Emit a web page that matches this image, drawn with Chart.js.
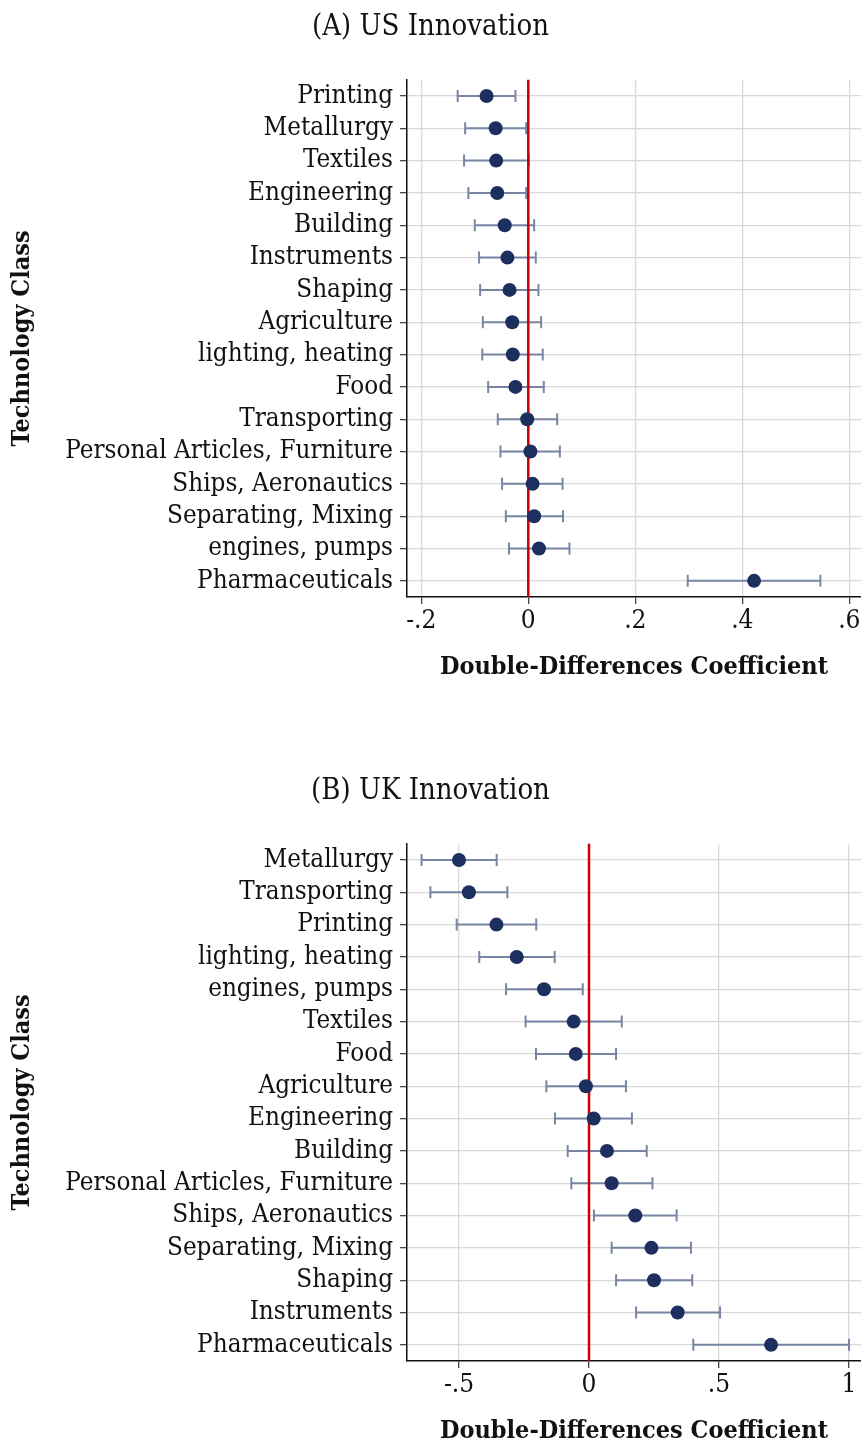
<!DOCTYPE html>
<html lang="en">
<head>
<meta charset="UTF-8">
<title>Double-Differences by Technology Class</title>
<script src="https://cdn.jsdelivr.net/npm/chart.js"></script>
<style>
    html, body { margin: 0; padding: 0; background: #fff; overflow: hidden; }
    .panel { position: absolute; left: 0; width: 861px; height: 682px; }
    #panelA { top: 0; }
    #panelB { top: 764px; }
</style>
</head>
<body>
<div class="panel" id="panelA"><canvas id="chartA" width="861" height="682"></canvas></div>
<div class="panel" id="panelB"><canvas id="chartB" width="861" height="682"></canvas></div>
<script>
// (A) US Innovation
const classesA = ['Printing', 'Metallurgy', 'Textiles', 'Engineering', 'Building', 'Instruments',
    'Shaping', 'Agriculture', 'lighting, heating', 'Food', 'Transporting',
    'Personal Articles, Furniture', 'Ships, Aeronautics', 'Separating, Mixing',
    'engines, pumps', 'Pharmaceuticals'];
const coefA = [-0.078, -0.061, -0.060, -0.058, -0.044, -0.039, -0.035, -0.030, -0.029, -0.024,
    -0.002, 0.004, 0.008, 0.011, 0.020, 0.422];
const lowA = [-0.132, -0.118, -0.120, -0.112, -0.100, -0.092, -0.090, -0.085, -0.086, -0.075,
    -0.057, -0.052, -0.049, -0.042, -0.036, 0.298];
const highA = [-0.024, -0.004, 0.001, -0.004, 0.011, 0.014, 0.019, 0.024, 0.027, 0.029,
    0.054, 0.059, 0.064, 0.065, 0.077, 0.546];
const ticksA = [-0.2, 0, 0.2, 0.4, 0.6];

// (B) UK Innovation
const classesB = ['Metallurgy', 'Transporting', 'Printing', 'lighting, heating', 'engines, pumps',
    'Textiles', 'Food', 'Agriculture', 'Engineering', 'Building',
    'Personal Articles, Furniture', 'Ships, Aeronautics', 'Separating, Mixing',
    'Shaping', 'Instruments', 'Pharmaceuticals'];
const coefB = [-0.500, -0.462, -0.356, -0.278, -0.173, -0.059, -0.051, -0.012, 0.018, 0.069,
    0.087, 0.178, 0.240, 0.250, 0.341, 0.700];
const lowB = [-0.644, -0.610, -0.509, -0.422, -0.319, -0.244, -0.204, -0.164, -0.131, -0.082,
    -0.068, 0.019, 0.087, 0.104, 0.181, 0.401];
const highB = [-0.355, -0.314, -0.203, -0.132, -0.024, 0.126, 0.104, 0.142, 0.165, 0.222,
    0.244, 0.337, 0.392, 0.397, 0.504, 1.000];
const ticksB = [-0.5, 0, 0.5, 1];

const FONT = "'DejaVu Serif Condensed', 'DejaVu Serif', serif";
Chart.defaults.font.family = FONT;
Chart.defaults.color = '#111';

// whiskers + red zero line, drawn under the points
const ciPlugin = {
    id: 'ciBars',
    beforeDatasetsDraw(chart, args, opts) {
        const ctx = chart.ctx;
        const x = chart.scales.x, y = chart.scales.y;
        ctx.save();
        ctx.strokeStyle = '#7886a4';
        ctx.lineWidth = 2;
        opts.low.forEach((lo, i) => {
            const py = y.getPixelForValue(i);
            const x1 = x.getPixelForValue(lo), x2 = x.getPixelForValue(opts.high[i]);
            ctx.beginPath();
            ctx.moveTo(x1, py); ctx.lineTo(x2, py);
            ctx.moveTo(x1, py - 6); ctx.lineTo(x1, py + 6);
            ctx.moveTo(x2, py - 6); ctx.lineTo(x2, py + 6);
            ctx.stroke();
        });
        const zx = x.getPixelForValue(0);
        ctx.strokeStyle = '#c8000a';
        ctx.lineWidth = 2.5;
        ctx.beginPath();
        ctx.moveTo(zx, chart.chartArea.top);
        ctx.lineTo(zx, chart.chartArea.bottom);
        ctx.stroke();
        ctx.restore();
    }
};

function fmtTick(v) {
    if (v === 0) return '0';
    return String(v).replace('0.', '.');
}

function makeChart(id, title, classes, coef, low, high, xmin, xmax, xticks) {
    return new Chart(document.getElementById(id), {
        type: 'scatter',
        data: {
            datasets: [{
                data: classes.map((c, i) => ({ x: coef[i], y: c })),
                backgroundColor: '#1c2f5e',
                borderWidth: 0,
                pointRadius: 7,
                pointHoverRadius: 7,
                clip: false
            }]
        },
        options: {
            responsive: false,
            animation: false,
            events: [],
            layout: { padding: 0, autoPadding: false },
            plugins: {
                legend: { display: false },
                tooltip: { enabled: false },
                title: {
                    display: true,
                    text: title,
                    font: { size: 29, weight: 'normal' },
                    color: '#111',
                    padding: { top: 10, bottom: 35 }
                },
                ciBars: { low: low, high: high }
            },
            scales: {
                x: {
                    type: 'linear',
                    min: xmin,
                    max: xmax,
                    afterBuildTicks: s => { s.ticks = xticks.map(v => ({ value: v })); },
                    afterFit: s => { s.height = 85; s.paddingLeft = 0; s.paddingRight = 0; },
                    grid: { color: '#d9d9d9', lineWidth: 1.3, tickLength: 7, tickColor: '#444' },
                    border: { color: '#111', width: 1.5 },
                    ticks: { font: { size: 26 }, color: '#111', padding: 2, maxRotation: 0, callback: v => fmtTick(v) },
                    title: {
                        display: true,
                        text: 'Double-Differences Coefficient',
                        font: { size: 25, weight: 'bold' },
                        color: '#111',
                        padding: { top: 0, bottom: 0 }
                    }
                },
                y: {
                    type: 'category',
                    labels: classes,
                    offset: true,
                    afterFit: s => { s.width = 407; s.paddingTop = 0; s.paddingBottom = 0; },
                    grid: { offset: false, color: '#d9d9d9', lineWidth: 1.3, tickLength: 7, tickColor: '#444' },
                    border: { color: '#111', width: 1.5 },
                    ticks: { font: { size: 25.8 }, color: '#111', padding: 7, autoSkip: false },
                    title: {
                        display: true,
                        text: 'Technology Class',
                        font: { size: 25, weight: 'bold' },
                        color: '#111',
                        padding: { top: 7, bottom: 0 }
                    }
                }
            }
        },
        plugins: [ciPlugin]
    });
}

makeChart('chartA', '(A) US Innovation', classesA, coefA, lowA, highA, -0.2267, 0.6219, ticksA);
makeChart('chartB', '(B) UK Innovation', classesB, coefB, lowB, highB, -0.700, 1.046, ticksB);
</script>
</body>
</html>
